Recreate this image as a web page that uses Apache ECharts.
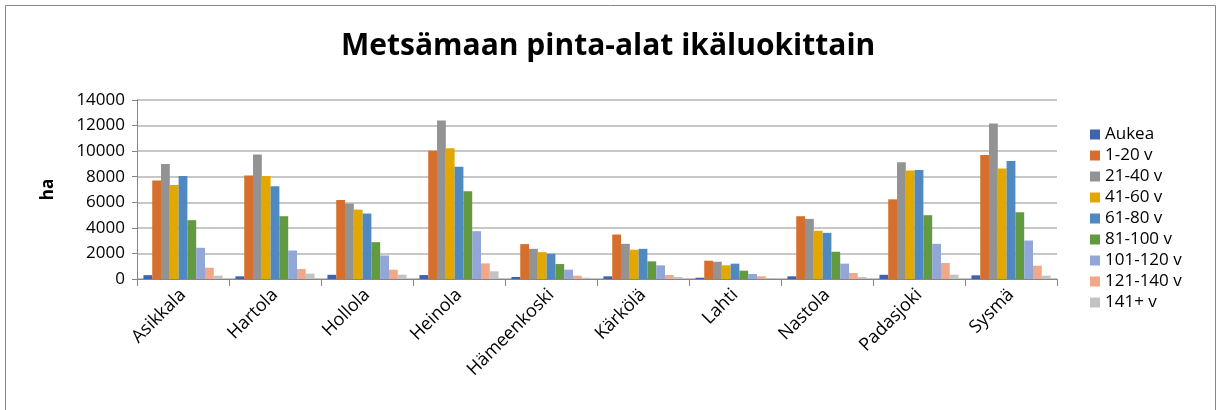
<!DOCTYPE html>
<html>
<head>
<meta charset="utf-8">
<script src="https://cdn.jsdelivr.net/npm/echarts@6/dist/echarts.min.js"></script>
<style>
  html, body { margin: 0; padding: 0; background: #fff; }
  #main { width: 1219px; height: 410px; }
</style>
</head>
<body>
<div id="main"></div>
<script>
var kunnat = ['Asikkala', 'Hartola', 'Hollola', 'Heinola', 'Hämeenkoski', 'Kärkölä', 'Lahti', 'Nastola', 'Padasjoki', 'Sysmä'];

var aukea    = [300, 210, 330, 310, 160, 210, 100, 210, 330, 290];
var v1_20    = [7700, 8100, 6180, 10030, 2730, 3480, 1430, 4910, 6230, 9690];
var v21_40   = [8990, 9740, 5900, 12390, 2360, 2750, 1350, 4700, 9140, 12160];
var v41_60   = [7350, 8050, 5430, 10230, 2100, 2290, 1070, 3770, 8490, 8650];
var v61_80   = [8050, 7250, 5120, 8780, 1970, 2360, 1200, 3610, 8520, 9220];
var v81_100  = [4600, 4910, 2880, 6860, 1170, 1380, 650, 2130, 4990, 5220];
var v101_120 = [2440, 2230, 1840, 3740, 730, 1070, 390, 1200, 2750, 3010];
var v121_140 = [880, 780, 730, 1220, 260, 310, 210, 470, 1250, 1040];
var v141     = [260, 420, 340, 600, 100, 160, 80, 160, 340, 260];

var nimet = ['Aukea', '1-20 v', '21-40 v', '41-60 v', '61-80 v', '81-100 v', '101-120 v', '121-140 v', '141+ v'];
var arvot = [aukea, v1_20, v21_40, v41_60, v61_80, v81_100, v101_120, v121_140, v141];
var varit = ['#3F63AE', '#D66F2D', '#939393', '#E3A800', '#4F89BF', '#629A3F', '#93A6D8', '#F1A78A', '#C3C3C3'];

var fontti = '"Open Sans", sans-serif';

var chartDom = document.getElementById('main');
var myChart = echarts.init(chartDom);
var option;

option = {
  color: varit,
  animation: false,
  textStyle: { fontFamily: fontti },
  title: {
    text: 'Metsämaan pinta-alat ikäluokittain',
    left: 336,
    top: 26,
    textStyle: { fontFamily: fontti, fontSize: 30, fontWeight: 'bold', color: '#000' }
  },
  graphic: [
    {
      type: 'rect',
      shape: { x: 5.5, y: 5.5, width: 1210, height: 410 },
      style: { fill: 'none', stroke: '#888', lineWidth: 1 }
    }
  ],
  legend: {
    orient: 'vertical',
    left: 1085,
    top: 121,
    itemWidth: 10,
    itemHeight: 10,
    itemGap: 4,
    icon: 'rect',
    textStyle: { fontFamily: fontti, fontSize: 17, lineHeight: 17, color: '#000' }
  },
  grid: {
    left: 137,
    right: 162,
    top: 100,
    bottom: 131
  },
  xAxis: {
    type: 'category',
    data: kunnat,
    axisLine: { lineStyle: { color: '#868686' } },
    axisTick: { show: true, length: 7, lineStyle: { color: '#868686' } },
    axisLabel: {
      rotate: 45,
      fontSize: 18,
      color: '#000',
      margin: 13,
      interval: 0
    }
  },
  yAxis: {
    type: 'value',
    min: 0,
    max: 14000,
    interval: 2000,
    name: 'ha',
    nameLocation: 'middle',
    nameGap: 80,
    nameTextStyle: { fontFamily: fontti, fontSize: 17, fontWeight: 'bold', color: '#000' },
    axisLine: { show: true, lineStyle: { color: '#868686' } },
    axisTick: { show: true, length: 5, lineStyle: { color: '#868686' } },
    axisLabel: {
      fontSize: 17,
      color: '#000',
      margin: 12,
      formatter: function (v) { return String(v); }
    },
    splitLine: { lineStyle: { color: '#b5b5b5', width: 1.5 } }
  },
  series: nimet.map(function (n, i) {
    return {
      name: n,
      type: 'bar',
      data: arvot[i],
      barGap: '0%',
      barCategoryGap: '14%'
    };
  })
};

option && myChart.setOption(option);
</script>
</body>
</html>
